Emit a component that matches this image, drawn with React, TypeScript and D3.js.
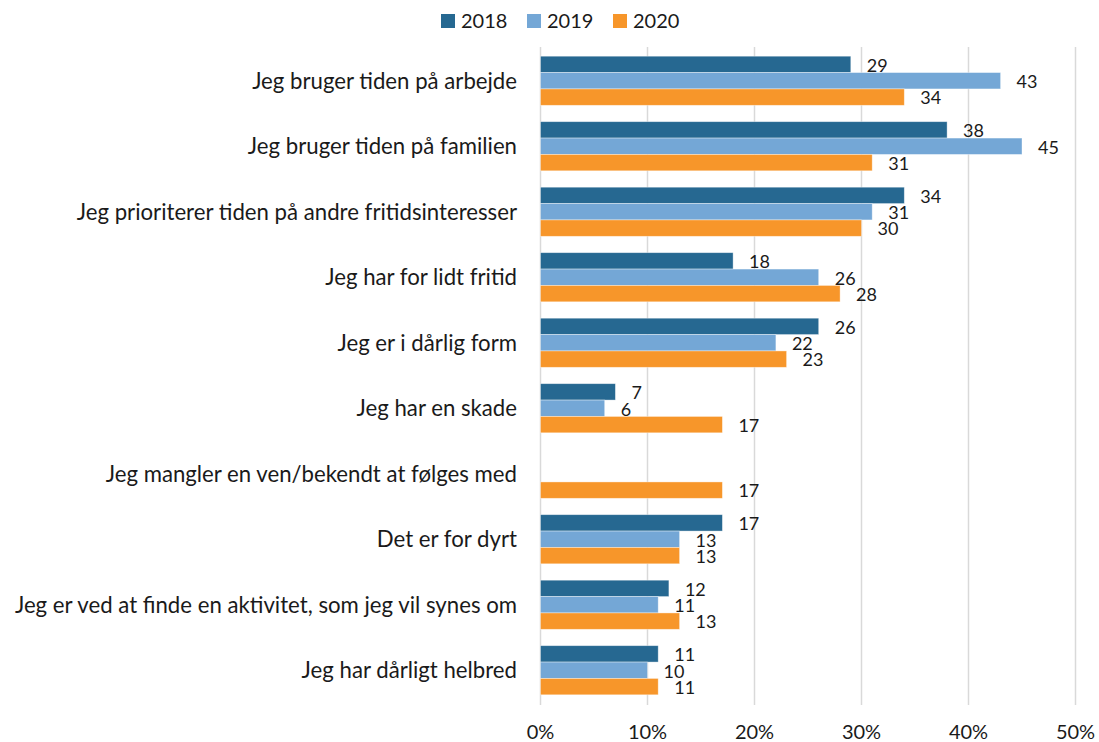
import * as d3 from "d3";

const categories = [
  "Jeg bruger tiden på arbejde",
  "Jeg bruger tiden på familien",
  "Jeg prioriterer tiden på andre fritidsinteresser",
  "Jeg har for lidt fritid",
  "Jeg er i dårlig form",
  "Jeg har en skade",
  "Jeg mangler en ven/bekendt at følges med",
  "Det er for dyrt",
  "Jeg er ved at finde en aktivitet, som jeg vil synes om",
  "Jeg har dårligt helbred",
];

const seriesNames = ["2018", "2019", "2020"];
const values2018 = [29, 38, 34, 18, 26, 7, null, 17, 12, 11];
const values2019 = [43, 45, 31, 26, 22, 6, null, 13, 11, 10];
const values2020 = [34, 31, 30, 28, 23, 17, 17, 13, 13, 11];
const xTicks = [0, 10, 20, 30, 40, 50];

const colors = ["#266891", "#74a7d6", "#f7962a"];
const font = "Lato, sans-serif";

export default function App() {
  const width = 1099;
  const height = 742;
  const left = 540.5;
  const right = 1075.5;
  const top = 48;
  const bottom = 703;

  const allSeries = [values2018, values2019, values2020];

  const x = d3.scaleLinear().domain([0, 50]).range([left, right]);
  const y = d3
    .scaleBand<string>()
    .domain(categories)
    .range([top, bottom])
    .paddingInner(0.25)
    .paddingOuter(0.125);
  const inner = d3
    .scaleBand<string>()
    .domain(seriesNames)
    .range([0, y.bandwidth()]);

  return (
    <svg
      width={width}
      height={height}
      style={{ position: "absolute", left: 0, top: 0, background: "#fff" }}
      fontFamily={font}
    >
      {/* legend */}
      <g>
        {seriesNames.map((s, i) => (
          <g key={s} transform={`translate(${441 + i * 86},14)`}>
            <rect width={14} height={14} fill={colors[i]} />
            <text x={20} y={7} dy="0.35em" fontSize={20} fill="#1a1a1a">
              {s}
            </text>
          </g>
        ))}
      </g>

      {/* gridlines */}
      <g>
        {xTicks.map((t) => (
          <line
            key={t}
            x1={x(t)}
            x2={x(t)}
            y1={top - 1}
            y2={bottom + 2}
            stroke="#d9d9d9"
            strokeWidth={1.5}
          />
        ))}
      </g>

      {/* x tick labels */}
      <g>
        {xTicks.map((t) => (
          <text
            key={t}
            x={x(t)}
            y={732}
            dy="0.35em"
            textAnchor="middle"
            fontSize={20}
            fill="#1a1a1a"
          >
            {`${t}%`}
          </text>
        ))}
      </g>

      {/* category labels */}
      <g>
        {categories.map((c) => (
          <text
            key={c}
            x={517}
            y={y(c)! + y.bandwidth() / 2}
            dy="0.35em"
            textAnchor="end"
            fontSize={22.2}
            fill="#1a1a1a"
          >
            {c}
          </text>
        ))}
      </g>

      {/* bars and labels */}
      {allSeries.map((vals, si) => (
        <g key={seriesNames[si]}>
          {categories.map((c, ci) => {
            const v = vals[ci];
            if (v == null) return null;
            const by = y(c)! + inner(seriesNames[si])!;
            return (
              <g key={c}>
                <rect
                  x={x(0)}
                  y={by}
                  width={x(v) - x(0)}
                  height={inner.bandwidth()}
                  fill={colors[si]}
                  stroke="#ffffff"
                  strokeOpacity={0.5}
                  strokeWidth={0.75}
                />
                <text
                  x={x(v) + 16}
                  y={by + inner.bandwidth() / 2 + 1}
                  dy="0.35em"
                  fontSize={18}
                  fill="#1a1a1a"
                >
                  {v}
                </text>
              </g>
            );
          })}
        </g>
      ))}
    </svg>
  );
}
